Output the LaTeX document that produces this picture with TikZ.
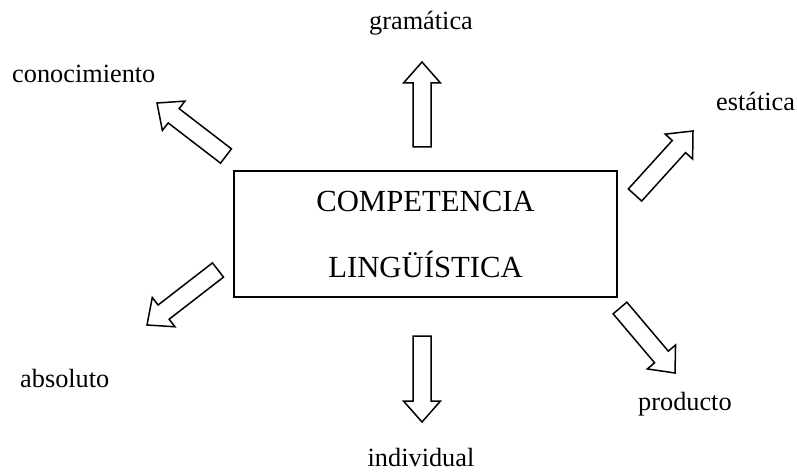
\documentclass[tikz,border=0pt]{standalone}
\usepackage{fontspec}
\setmainfont{Liberation Serif}
\usepackage{tikz}
\usetikzlibrary{calc}
\tikzstyle{blockarrow} = [line width=1.5pt, draw=black, fill=white, line join=miter]
\tikzstyle{term} = [font=\fontsize{26.3}{30}\selectfont, inner sep=0pt]
\tikzstyle{mainbox} = [rectangle, draw=black, line width=1.5pt, minimum width=383pt, minimum height=126pt, align=center, inner sep=0pt, font=\fontsize{30.7}{66}\selectfont]
% hollow block arrow from tail (#1) to tip (#2)
\newcommand{\bigarrow}[2]{%
  \coordinate (head) at ($(#2)!21pt!(#1)$);
  \draw[blockarrow] ($(#1)!9pt!90:(#2)$) -- ($(head)!9pt!90:(#2)$) -- ($(head)!18.5pt!90:(#2)$) -- (#2)
    -- ($(head)!18.5pt!-90:(#2)$) -- ($(head)!9pt!-90:(#2)$) -- ($(#1)!9pt!-90:(#2)$) -- cycle;
}
\begin{document}
\begin{tikzpicture}[x=1pt, y=-1pt]
    \useasboundingbox (0,0) rectangle (797,473);

    % Box
    \node[mainbox] (box) at (425.5,234) {COMPETENCIA\\LINGÜÍSTICA};

    % Arrow ends
    \coordinate (gramTail) at (422,147);
    \coordinate (gramTip) at (422,62);
    \coordinate (indTail) at (422,336);
    \coordinate (indTip) at (422,422);
    \coordinate (conTail) at (226,156);
    \coordinate (conTip) at (157,103);
    \coordinate (estTail) at (635,195);
    \coordinate (estTip) at (693,131);
    \coordinate (absTail) at (218,270);
    \coordinate (absTip) at (147,325);
    \coordinate (proTail) at (620,308);
    \coordinate (proTip) at (675,373);

    % Arrows
    \bigarrow{gramTail}{gramTip}
    \bigarrow{indTail}{indTip}
    \bigarrow{conTail}{conTip}
    \bigarrow{estTail}{estTip}
    \bigarrow{absTail}{absTip}
    \bigarrow{proTail}{proTip}

    % Labels
    \node[term, anchor=base] (gram) at (421,30) {gramática};
    \node[term, anchor=base west] (con) at (12,83) {conocimiento};
    \node[term, anchor=base west] (est) at (716,111) {estática};
    \node[term, anchor=base west] (abs) at (20,387) {absoluto};
    \node[term, anchor=base] (ind) at (421,466) {individual};
    \node[term, anchor=base west] (pro) at (638,410) {producto};
\end{tikzpicture}
\end{document}
